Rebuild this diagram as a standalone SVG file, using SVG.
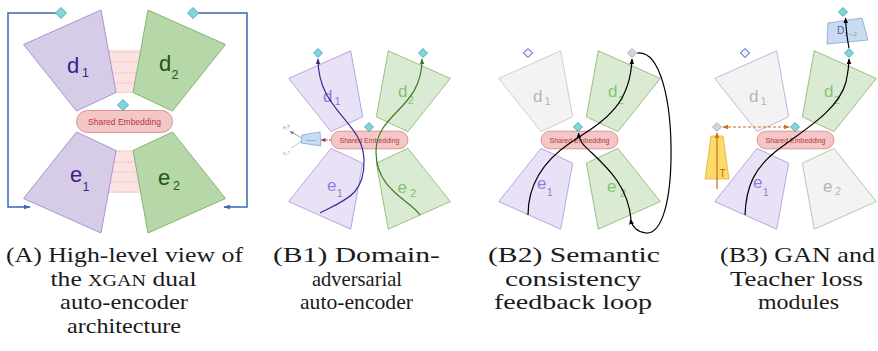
<svg xmlns="http://www.w3.org/2000/svg" width="878" height="351" viewBox="0 0 878 351">
<style>
  .lab { font-family: "Liberation Sans", Arial, sans-serif; }
  .cap { font-family: "Liberation Serif", "Times New Roman", serif; font-size: 21px; fill: #1a1a1a; text-anchor: middle; }
  .pill { fill: #f5c6c6; stroke: #d98a8a; stroke-width: 0.9; }
  .pilltxt { font-family: "Liberation Sans", Arial, sans-serif; fill: #b23a3a; text-anchor: middle; }
  .pA { fill: #d6cce8; stroke: #9d8fcc; stroke-width: 0.9; }
  .gA { fill: #b6d7a8; stroke: #7fae66; stroke-width: 0.9; }
  .pB { fill: #e9e2f7; stroke: #ab9fdb; stroke-width: 0.9; }
  .gB { fill: #dbebd3; stroke: #8fbb75; stroke-width: 0.9; }
  .nB { fill: #f3f3f3; stroke: #c9c9c9; stroke-width: 0.9; }
  .nBp { fill: #f3f3f3; stroke: #b8addf; stroke-width: 0.9; }
  .nBg { fill: #f3f3f3; stroke: #aac49e; stroke-width: 0.9; }
  .dia { fill: #7fd7d9; stroke: #3d97a8; stroke-width: 0.8; }
  .diaG { fill: #d3d5dc; stroke: #a2a6b4; stroke-width: 0.8; }
  .diaW { fill: #eef2fa; stroke: #2f4f9c; stroke-width: 1; }
  .dots { stroke: #e49a9a; stroke-width: 0.8; stroke-dasharray: 1.2 1.6; fill: none; }
  .link { fill: #fbe3e3; stroke: none; }
  .tPurA { fill: #3f2287; }
  .tGrnA { fill: #245512; }
  .tPur { fill: #8c80d4; }
  .tGrn { fill: #84c270; }
  .tGry { fill: #b5b5b5; }
  .blueLine { fill: none; stroke: #3c67b3; stroke-width: 1.5; }
  .curve { fill: none; stroke-width: 1.2; }
  .disc { fill: #c9dbf0; stroke: #80a7d4; stroke-width: 0.8; }
</style>
<defs>
  <marker id="arrBlue" viewBox="0 0 10 10" refX="9" refY="5" markerWidth="7" markerHeight="7" markerUnits="userSpaceOnUse" orient="auto">
    <path d="M0,1.5 L10,5 L0,8.5 Z" fill="#3c67b3"/>
  </marker>
  <marker id="arrBlack" viewBox="0 0 10 10" refX="9" refY="5" markerWidth="6" markerHeight="6" markerUnits="userSpaceOnUse" orient="auto">
    <path d="M0,1 L10,5 L0,9 Z" fill="#000"/>
  </marker>
  <marker id="arrPurple" viewBox="0 0 10 10" refX="9" refY="5" markerWidth="6" markerHeight="6" markerUnits="userSpaceOnUse" orient="auto">
    <path d="M0,1 L10,5 L0,9 Z" fill="#3b2a8c"/>
  </marker>
  <marker id="arrGreen" viewBox="0 0 10 10" refX="9" refY="5" markerWidth="6" markerHeight="6" markerUnits="userSpaceOnUse" orient="auto">
    <path d="M0,1 L10,5 L0,9 Z" fill="#3b7d1f"/>
  </marker>
  <marker id="arrRed" viewBox="0 0 10 10" refX="9" refY="5" markerWidth="5" markerHeight="5" markerUnits="userSpaceOnUse" orient="auto">
    <path d="M0,1 L10,5 L0,9 Z" fill="#b03030"/>
  </marker>
  <marker id="arrGray" viewBox="0 0 10 10" refX="9" refY="5" markerWidth="4" markerHeight="4" markerUnits="userSpaceOnUse" orient="auto">
    <path d="M0,1 L10,5 L0,9 Z" fill="#777"/>
  </marker>
  <marker id="arrOrange" viewBox="0 0 10 10" refX="9" refY="5" markerWidth="6" markerHeight="6" markerUnits="userSpaceOnUse" orient="auto-start-reverse">
    <path d="M0,1 L10,5 L0,9 Z" fill="#c8711f"/>
  </marker>
  <path id="diaL" d="M0,-5.5 L5.5,0 L0,5.5 L-5.5,0 Z"/>
  <path id="diaS" d="M0,-4.5 L4.5,0 L0,4.5 L-4.5,0 Z"/>
</defs>

<rect width="878" height="351" fill="#ffffff"/>

<!-- ===== Panel A: dual auto-encoder overview ===== -->
<g id="panelA" transform="translate(124.5,121.5)">
  <g id="a-shared-links">
    <polygon class="link" points="-16,-71.5 16,-71.5 8.5,-29 -8.5,-29"/>
    <path class="dots" d="M-15.5,-69.5 H15.5 M-14,-59.5 H14 M-12,-48.5 H12 M-10.5,-38.5 H10.5 M-8.5,-29 H8.5"/>
    <polygon class="link" points="-8.5,29 8.5,29 16,71.5 -16,71.5"/>
    <path class="dots" d="M-8.5,29.5 H8.5 M-10.5,40.5 H10.5 M-12,50.5 H12 M-14,60.5 H14 M-15.5,70.5 H15.5"/>
  </g>
  <g id="a-d1">
    <polygon class="pA" points="-101,-77 -23.5,-111.5 -8.5,-29 -48,-10.5"/>
    <text class="lab tPurA" x="-57.5" y="-48.5" font-size="22">d<tspan x="-42.5" y="-44.5" font-size="12.5">1</tspan></text>
  </g>
  <g id="a-d2">
    <polygon class="gA" points="101,-77 23.5,-111.5 8.5,-29 48,-10.5"/>
    <text class="lab tGrnA" x="34.5" y="-50.5" font-size="22">d<tspan x="47" y="-42.5" font-size="12.5">2</tspan></text>
  </g>
  <g id="a-e1">
    <polygon class="pA" points="-48,10.5 -8.5,29 -23.5,111.5 -101,77"/>
    <text class="lab tPurA" x="-54.5" y="60.5" font-size="22">e<tspan x="-42" y="69.5" font-size="12.5">1</tspan></text>
  </g>
  <g id="a-e2">
    <polygon class="gA" points="48,10.5 8.5,29 23.5,111.5 101,77"/>
    <text class="lab tGrnA" x="33.5" y="63.5" font-size="22">e<tspan x="48.5" y="68.5" font-size="12.5">2</tspan></text>
  </g>
  <g id="a-embedding">
    <rect class="pill" x="-48" y="-11" width="96" height="22" rx="11"/>
    <text class="pilltxt" x="0" y="3" font-size="8.5">Shared Embedding</text>
  </g>
  <g id="a-ports">
    <use href="#diaL" class="dia" x="-63.5" y="-108.5"/>
    <use href="#diaL" class="dia" x="68.5" y="-108.5"/>
    <use href="#diaL" class="dia" x="-1.5" y="-16.5"/>
  </g>
</g>
<g id="a-connectors">
  <path class="blueLine" d="M55.5,13 H8 V207 H30" marker-end="url(#arrBlue)"/>
  <path class="blueLine" d="M198.5,13 H247 V207 H224" marker-end="url(#arrBlue)"/>
</g>

<!-- ===== Panel B1: domain-adversarial auto-encoder ===== -->
<g id="panelB1" transform="translate(369.5,140)">
  <g id="b1-d1">
    <polygon class="pB" points="-80.8,-61.6 -18.8,-89.2 -6.8,-23.2 -38.4,-8.4"/>
    <text class="lab tPur" x="-46.5" y="-38" font-size="17">d<tspan x="-35" y="-35" font-size="11">1</tspan></text>
  </g>
  <g id="b1-d2">
    <polygon class="gB" points="80.8,-61.6 18.8,-89.2 6.8,-23.2 38.4,-8.4"/>
    <text class="lab tGrn" x="28.5" y="-43" font-size="17">d<tspan x="38.2" y="-36" font-size="11">2</tspan></text>
  </g>
  <g id="b1-e1">
    <polygon class="pB" points="-38.4,8.4 -6.8,23.2 -18.8,89.2 -80.8,61.6"/>
    <text class="lab tPur" x="-42.5" y="51" font-size="17">e<tspan x="-32.8" y="57" font-size="11">1</tspan></text>
  </g>
  <g id="b1-e2">
    <polygon class="gB" points="38.4,8.4 6.8,23.2 18.8,89.2 80.8,61.6"/>
    <text class="lab tGrn" x="28" y="53" font-size="17">e<tspan x="40.5" y="57" font-size="11">2</tspan></text>
  </g>
  <g id="b1-embedding">
    <rect class="pill" x="-38.4" y="-8.8" width="76.8" height="17.6" rx="8.8"/>
    <text class="pilltxt" x="0" y="2.5" font-size="7">Shared Embedding</text>
  </g>
  <g id="b1-domain-classifier">
    <polygon class="disc" points="-67.5,-5 -49.5,-8 -48.5,6 -68.5,3"/>
    <text class="lab" x="-63" y="0.5" font-size="3.5" fill="#3c5fa8">c<tspan font-size="2.5" dy="0.8">domain</tspan></text>
    <text class="lab" x="-86.5" y="-11" font-size="4.5" fill="#8a8aa8">e<tspan font-size="3" dy="1">1</tspan><tspan dy="-1">?</tspan></text>
    <text class="lab" x="-86.5" y="15" font-size="4.5" fill="#86c46e">e<tspan font-size="3" dy="1">2</tspan><tspan dy="-1">?</tspan></text>
  </g>
  <g id="b1-ports">
    <use href="#diaS" class="dia" x="-51.5" y="-87"/>
    <use href="#diaS" class="dia" x="53.5" y="-87"/>
    <use href="#diaS" class="dia" x="-0.5" y="-13"/>
  </g>
</g>
<g id="b1-connectors">
  <path class="curve" stroke="#3b2a8c" d="M320,213 C345,200 365,195 364,160 C363,120 318,112 318,59" marker-end="url(#arrPurple)"/>
  <path class="curve" stroke="#3b7d1f" d="M420,215 C410,200 376,190 376,152 C376,112 422,110 422,59" marker-end="url(#arrGreen)"/>
  <path fill="none" stroke="#b03030" stroke-width="1" stroke-dasharray="2 1.5" d="M331,140 H321" marker-end="url(#arrRed)"/>
  <path fill="none" stroke="#777" stroke-width="0.7" d="M301,137.5 L290,131.5" marker-end="url(#arrGray)"/>
  <path fill="none" stroke="#86c46e" stroke-width="0.7" d="M301,141.5 L291,148.5"/>
</g>

<!-- ===== Panel B2: semantic consistency feedback loop ===== -->
<g id="panelB2" transform="translate(579.5,140)">
  <g id="b2-d1">
    <polygon class="nB" points="-80.8,-61.6 -18.8,-89.2 -6.8,-23.2 -38.4,-8.4"/>
    <text class="lab tGry" x="-46.5" y="-38" font-size="17">d<tspan x="-35" y="-35" font-size="11">1</tspan></text>
  </g>
  <g id="b2-d2">
    <polygon class="gB" points="80.8,-61.6 18.8,-89.2 6.8,-23.2 38.4,-8.4"/>
    <text class="lab tGrn" x="28.5" y="-43" font-size="17">d<tspan x="38.2" y="-36" font-size="11">2</tspan></text>
  </g>
  <g id="b2-e1">
    <polygon class="pB" points="-38.4,8.4 -6.8,23.2 -18.8,89.2 -80.8,61.6"/>
    <text class="lab tPur" x="-42.5" y="49" font-size="17">e<tspan x="-32.8" y="56" font-size="11">1</tspan></text>
  </g>
  <g id="b2-e2">
    <polygon class="gB" points="38.4,8.4 6.8,23.2 18.8,89.2 80.8,61.6"/>
    <text class="lab tGrn" x="27.5" y="52" font-size="17">e<tspan x="40.5" y="57" font-size="11">2</tspan></text>
  </g>
  <g id="b2-embedding">
    <rect class="pill" x="-38.4" y="-8.8" width="76.8" height="17.6" rx="8.8"/>
    <text class="pilltxt" x="0" y="2.5" font-size="7">Shared Embedding</text>
  </g>
  <g id="b2-ports">
    <use href="#diaS" class="diaW" x="-51.5" y="-87"/>
    <use href="#diaS" class="diaG" x="52.5" y="-87"/>
    <use href="#diaS" class="dia" x="-1.5" y="-13"/>
  </g>
</g>
<g id="b2-connectors">
  <path class="curve" stroke="#000" d="M528,215 C528,182 545,160 570,143 C598,124 630,110 632,59" marker-end="url(#arrBlack)"/>
  <path class="curve" stroke="#000" d="M637,53 C660,50 672,100 671,160 C670,208 660,234 646,233 C638,232 632,227 630.5,219" marker-end="url(#arrBlack)"/>
  <path class="curve" stroke="#000" d="M631,219 C628,188 610,170 592,153 C583,145 579,141 578.5,133" marker-end="url(#arrBlack)"/>
</g>

<!-- ===== Panel B3: GAN and teacher loss modules ===== -->
<g id="panelB3" transform="translate(795.5,140)">
  <g id="b3-d1">
    <polygon class="nBp" points="-80.8,-61.6 -18.8,-89.2 -6.8,-23.2 -38.4,-8.4"/>
    <text class="lab tGry" x="-46.5" y="-38" font-size="17">d<tspan x="-35" y="-35" font-size="11">1</tspan></text>
  </g>
  <g id="b3-d2">
    <polygon class="gB" points="80.8,-61.6 18.8,-89.2 6.8,-23.2 38.4,-8.4"/>
    <text class="lab tGrn" x="28.5" y="-43" font-size="17">d<tspan x="38.2" y="-36" font-size="11">2</tspan></text>
  </g>
  <g id="b3-e1">
    <polygon class="pB" points="-38.4,8.4 -6.8,23.2 -18.8,89.2 -80.8,61.6"/>
    <text class="lab tPur" x="-42.5" y="48" font-size="17">e<tspan x="-32.8" y="56" font-size="11">1</tspan></text>
  </g>
  <g id="b3-e2">
    <polygon class="nBg" points="38.4,8.4 6.8,23.2 18.8,89.2 80.8,61.6"/>
    <text class="lab tGry" x="27.5" y="52" font-size="17">e<tspan x="39.5" y="55" font-size="11">2</tspan></text>
  </g>
  <g id="b3-embedding">
    <rect class="pill" x="-38.4" y="-8.8" width="76.8" height="17.6" rx="8.8"/>
    <text class="pilltxt" x="0" y="2.5" font-size="7">Shared Embedding</text>
  </g>
  <g id="b3-teacher">
    <polygon points="-84.5,-4 -72.5,-4 -66.5,39 -90.5,39" fill="#ffd966" stroke="#dcb04a" stroke-width="0.8"/>
    <text class="lab" x="-76" y="37" font-size="10" fill="#b46504">T</text>
  </g>
  <g id="b3-discriminator">
    <polygon class="disc" points="32.5,-117 66.5,-122 72.5,-100 31.5,-96"/>
    <text class="lab" x="41.5" y="-106" font-size="10" fill="#3c5fa8">D<tspan font-size="6" dy="2"><tspan fill="#7d6fcf">1</tspan><tspan fill="#3c5fa8">→</tspan><tspan fill="#6fb255">2</tspan></tspan></text>
  </g>
  <g id="b3-ports">
    <use href="#diaS" class="diaW" x="-50.5" y="-87"/>
    <use href="#diaS" class="dia" x="53.5" y="-87"/>
    <use href="#diaS" class="dia" x="47.5" y="-128"/>
    <use href="#diaS" class="dia" x="-0.5" y="-13"/>
    <use href="#diaS" class="diaG" x="-78.5" y="-13"/>
  </g>
</g>
<g id="b3-connectors">
  <path class="curve" stroke="#000" d="M745,215 C746,186 755,168 775,152 C800,132 838,112 846,82 C848,72 849,66 849,59" marker-end="url(#arrBlack)"/>
  <path class="curve" stroke="#000" d="M849,48 C847,38 846,28 845.5,18" marker-end="url(#arrBlack)"/>
  <path fill="none" stroke="#c8711f" stroke-width="1.2" d="M717,189 V133" marker-end="url(#arrOrange)"/>
  <path fill="none" stroke="#c8711f" stroke-width="1.2" stroke-dasharray="3 2" d="M723,127 H789" marker-start="url(#arrOrange)" marker-end="url(#arrOrange)"/>
</g>

<!-- ===== Captions ===== -->
<g id="captions">
  <text class="cap" x="124.5" y="262" textLength="237" lengthAdjust="spacingAndGlyphs">(A) High-level view of</text>
  <text class="cap" x="123.5" y="286" textLength="146" lengthAdjust="spacingAndGlyphs">the <tspan font-size="16.5">XGAN</tspan> dual</text>
  <text class="cap" x="124" y="309" textLength="128" lengthAdjust="spacingAndGlyphs">auto-encoder</text>
  <text class="cap" x="124" y="333" textLength="114" lengthAdjust="spacingAndGlyphs">architecture</text>

  <text class="cap" x="356.5" y="262" textLength="167" lengthAdjust="spacingAndGlyphs">(B1) Domain-</text>
  <text class="cap" x="357" y="286" textLength="90" lengthAdjust="spacingAndGlyphs">adversarial</text>
  <text class="cap" x="356.5" y="309" textLength="113" lengthAdjust="spacingAndGlyphs">auto-encoder</text>

  <text class="cap" x="574" y="262" textLength="172" lengthAdjust="spacingAndGlyphs">(B2) Semantic</text>
  <text class="cap" x="573" y="286" textLength="136" lengthAdjust="spacingAndGlyphs">consistency</text>
  <text class="cap" x="573" y="309" textLength="158" lengthAdjust="spacingAndGlyphs">feedback loop</text>

  <text class="cap" x="797.5" y="262" textLength="155" lengthAdjust="spacingAndGlyphs">(B3) GAN and</text>
  <text class="cap" x="796.5" y="286" textLength="133" lengthAdjust="spacingAndGlyphs">Teacher loss</text>
  <text class="cap" x="798.5" y="309" textLength="81" lengthAdjust="spacingAndGlyphs">modules</text>
</g>
</svg>
